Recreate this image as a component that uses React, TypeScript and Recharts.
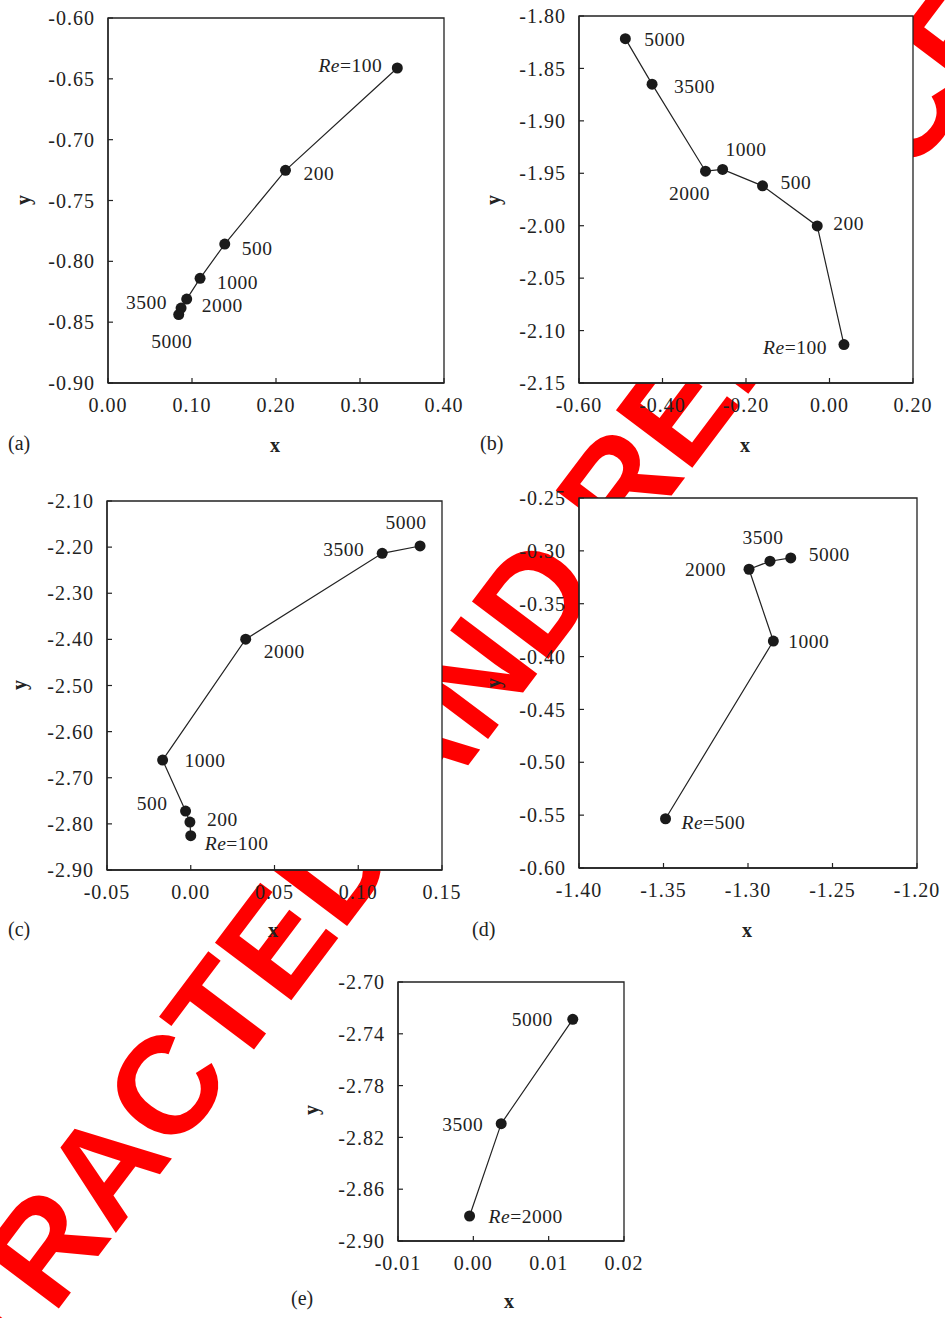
import React from 'react';
import { ScatterChart, Scatter, XAxis, YAxis, CartesianGrid, ReferenceArea } from 'recharts';

// ---------- Data: panel (a) ----------
const reA = [100, 200, 500, 1000, 2000, 3500, 5000];
const xA = [0.3444, 0.2113, 0.139, 0.1096, 0.0937, 0.087, 0.0842];
const yA = [-0.6411, -0.7252, -0.7858, -0.814, -0.831, -0.8384, -0.8438];
const xTicksA = [0, 0.1, 0.2, 0.3, 0.4];
const yTicksA = [-0.9, -0.85, -0.8, -0.75, -0.7, -0.65, -0.6];

// ---------- Data: panel (b) ----------
const reB = [100, 200, 500, 1000, 2000, 3500, 5000];
const xB = [0.0346, -0.0294, -0.1604, -0.256, -0.297, -0.425, -0.489];
const yB = [-2.1133, -2.0002, -1.962, -1.9463, -1.948, -1.865, -1.8216];
const xTicksB = [-0.6, -0.4, -0.2, 0, 0.2];
const yTicksB = [-2.15, -2.1, -2.05, -2.0, -1.95, -1.9, -1.85, -1.8];

// ---------- Data: panel (c) ----------
const reC = [100, 200, 500, 1000, 2000, 3500, 5000];
const xC = [0.0, -0.0005, -0.0031, -0.0168, 0.0328, 0.1143, 0.1369];
const yC = [-2.8256, -2.796, -2.7722, -2.6617, -2.3996, -2.2134, -2.1975];
const xTicksC = [-0.05, 0, 0.05, 0.1, 0.15];
const yTicksC = [-2.9, -2.8, -2.7, -2.6, -2.5, -2.4, -2.3, -2.2, -2.1];

// ---------- Data: panel (d) ----------
const reD = [500, 1000, 2000, 3500, 5000];
const xD = [-1.3488, -1.285, -1.2994, -1.287, -1.2747];
const yD = [-0.5534, -0.3853, -0.3174, -0.3098, -0.3067];
const xTicksD = [-1.4, -1.35, -1.3, -1.25, -1.2];
const yTicksD = [-0.6, -0.55, -0.5, -0.45, -0.4, -0.35, -0.3, -0.25];

// ---------- Data: panel (e) ----------
const reE = [2000, 3500, 5000];
const xE = [-0.0005, 0.0037, 0.0132];
const yE = [-2.8807, -2.8094, -2.7288];
const xTicksE = [-0.01, 0, 0.01, 0.02];
const yTicksE = [-2.9, -2.86, -2.82, -2.78, -2.74, -2.7];

// ---------- Layout (label placements: dx, dy, anchor) ----------
type Place = [number, number, 'start' | 'end' | 'middle'];
const placeA: Place[] = [[-15, -3, 'end'], [18, 3, 'start'], [17, 4, 'start'], [17, 4, 'start'], [15, 6, 'start'], [-14, -6, 'end'], [-7, 26, 'middle']];
const placeB: Place[] = [[-17, 2, 'end'], [16, -3, 'start'], [18, -4, 'start'], [3, -20, 'start'], [-16, 22, 'middle'], [22, 2, 'start'], [19, 0, 'start']];
const placeC: Place[] = [[14, 7, 'start'], [17, -3, 'start'], [-18, -8, 'end'], [22, 0, 'start'], [18, 12, 'start'], [-18, -4, 'end'], [-14, -24, 'middle']];
const placeD: Place[] = [[16, 3, 'start'], [15, 0, 'start'], [-23, 0, 'end'], [-7, -24, 'middle'], [18, -4, 'start']];
const placeE: Place[] = [[19, 0, 'start'], [-18, 0, 'end'], [-20, 0, 'end']];

const SERIF = "'Liberation Serif', 'Times New Roman', Times, serif";
const INK = '#222';
const FS = 20;
const LFS = 19.5;

const fmt = (v: number) => (Math.abs(v) < 1e-9 ? 0 : v).toFixed(2);

const tickStyle = { fontFamily: SERIF, fontSize: FS, fill: INK, letterSpacing: 1 };

interface PanelProps {
  left: number; top: number; width: number; height: number;
  box: [number, number, number, number];
  xDomain: [number, number]; yDomain: [number, number];
  xTicks: number[]; yTicks: number[];
  re: number[]; xs: number[]; ys: number[]; place: Place[];
}

function Panel(p: PanelProps) {
  const data = p.re.map((r, i) => ({ x: p.xs[i], y: p.ys[i], re: r, i }));
  const [L, T, R, B] = p.box;
  const xAxisH = 60;
  const margin = { top: T - p.top, left: 0, right: p.left + p.width - R, bottom: p.top + p.height - B - xAxisH };
  const shape = (sp: any) => {
    const { cx, cy, payload } = sp;
    const [dx, dy, anchor] = p.place[payload.i];
    return (
      <g>
        <circle cx={cx} cy={cy} r={5.5} fill="#1a1a1a" />
        <text x={cx + dx} y={cy + dy + 7} textAnchor={anchor} fontFamily={SERIF} fontSize={LFS} fill={INK} letterSpacing={0.5}>
          {payload.i === 0 ? (
            <>
              <tspan fontStyle="italic">Re</tspan>
              <tspan>={payload.re}</tspan>
            </>
          ) : (
            String(payload.re)
          )}
        </text>
      </g>
    );
  };
  return (
    <div style={{ position: 'absolute', left: p.left, top: p.top }}>
      <ScatterChart width={p.width} height={p.height} margin={margin}>
        <CartesianGrid fill="#fff" horizontal={false} vertical={false} />
        <XAxis
          type="number" dataKey="x" domain={p.xDomain} ticks={p.xTicks} interval={0} allowDataOverflow
          height={xAxisH} tickSize={-5} tickMargin={20} tickFormatter={fmt} tick={tickStyle}
          axisLine={{ stroke: INK, strokeWidth: 1.3 }} tickLine={{ stroke: INK, strokeWidth: 1.2 }}
        />
        <YAxis
          type="number" dataKey="y" domain={p.yDomain} ticks={p.yTicks} interval={0} allowDataOverflow
          width={L - p.left} tickSize={-5} tickMargin={18} tickFormatter={fmt} tick={tickStyle}
          axisLine={{ stroke: INK, strokeWidth: 1.3 }} tickLine={{ stroke: INK, strokeWidth: 1.2 }}
        />
        <ReferenceArea
          x1={p.xDomain[0]} x2={p.xDomain[1]} y1={p.yDomain[0]} y2={p.yDomain[1]}
          fill="none" stroke={INK} strokeWidth={1.3} ifOverflow="visible"
        />
        <Scatter data={data} line={{ stroke: INK, strokeWidth: 1.2 }} shape={shape} isAnimationActive={false} />
      </ScatterChart>
    </div>
  );
}

// Watermark geometry
const WM_X = -114;
const WM_Y = 1538;
const WM_ANGLE = -53;

const titles = [
  { p: '(a)', px: 8, py: 450, xx: 275, xy: 452, yx: 30, yy: 200 },
  { p: '(b)', px: 480, py: 450, xx: 745, xy: 452, yx: 500, yy: 200 },
  { p: '(c)', px: 8, py: 936, xx: 273, xy: 937, yx: 26, yy: 685 },
  { p: '(d)', px: 472, py: 936, xx: 747, xy: 937, yx: 500, yy: 683 },
  { p: '(e)', px: 291, py: 1305, xx: 509, xy: 1308, yx: 318, yy: 1110 },
];

export default function App() {
  return (
    <div style={{ position: 'absolute', left: 0, top: 0, width: 945, height: 1318, background: '#fff', overflow: 'hidden' }}>
      <svg width={945} height={1318} style={{ position: 'absolute', left: 0, top: 0 }}>
        <text
          x={WM_X} y={WM_Y} transform={`rotate(${WM_ANGLE} ${WM_X} ${WM_Y})`}
          fontFamily="'Liberation Sans', Arial, sans-serif" fontWeight="bold" fontSize={139} fill="#ff0000"
        >
          RETRACTED AND REPLACED
        </text>
      </svg>
      <Panel left={0} top={0} width={470} height={470} box={[108, 18, 444, 383]}
        xDomain={[0, 0.4]} yDomain={[-0.9, -0.6]} xTicks={xTicksA} yTicks={yTicksA}
        re={reA} xs={xA} ys={yA} place={placeA} />
      <Panel left={470} top={0} width={475} height={470} box={[579, 16, 913, 383]}
        xDomain={[-0.6, 0.2]} yDomain={[-2.15, -1.8]} xTicks={xTicksB} yTicks={yTicksB}
        re={reB} xs={xB} ys={yB} place={placeB} />
      <Panel left={0} top={480} width={470} height={470} box={[107, 501, 442, 870]}
        xDomain={[-0.05, 0.15]} yDomain={[-2.9, -2.1]} xTicks={xTicksC} yTicks={yTicksC}
        re={reC} xs={xC} ys={yC} place={placeC} />
      <Panel left={470} top={480} width={475} height={470} box={[579, 498, 917, 868]}
        xDomain={[-1.4, -1.2]} yDomain={[-0.6, -0.25]} xTicks={xTicksD} yTicks={yTicksD}
        re={reD} xs={xD} ys={yD} place={placeD} />
      <Panel left={290} top={960} width={370} height={340} box={[398, 982, 624, 1241]}
        xDomain={[-0.01, 0.02]} yDomain={[-2.9, -2.7]} xTicks={xTicksE} yTicks={yTicksE}
        re={reE} xs={xE} ys={yE} place={placeE} />
      <svg width={945} height={1318} style={{ position: 'absolute', left: 0, top: 0, pointerEvents: 'none' }}>
        {titles.map((t) => (
          <g key={t.p} fontFamily={SERIF} fill={INK}>
            <text x={t.px} y={t.py} fontSize={FS}>{t.p}</text>
            <text x={t.xx} y={t.xy} fontSize={FS} fontWeight="bold" textAnchor="middle">x</text>
            <text x={t.yx} y={t.yy} fontSize={FS} fontWeight="bold" textAnchor="middle" transform={`rotate(-90 ${t.yx} ${t.yy})`}>y</text>
          </g>
        ))}
      </svg>
    </div>
  );
}
